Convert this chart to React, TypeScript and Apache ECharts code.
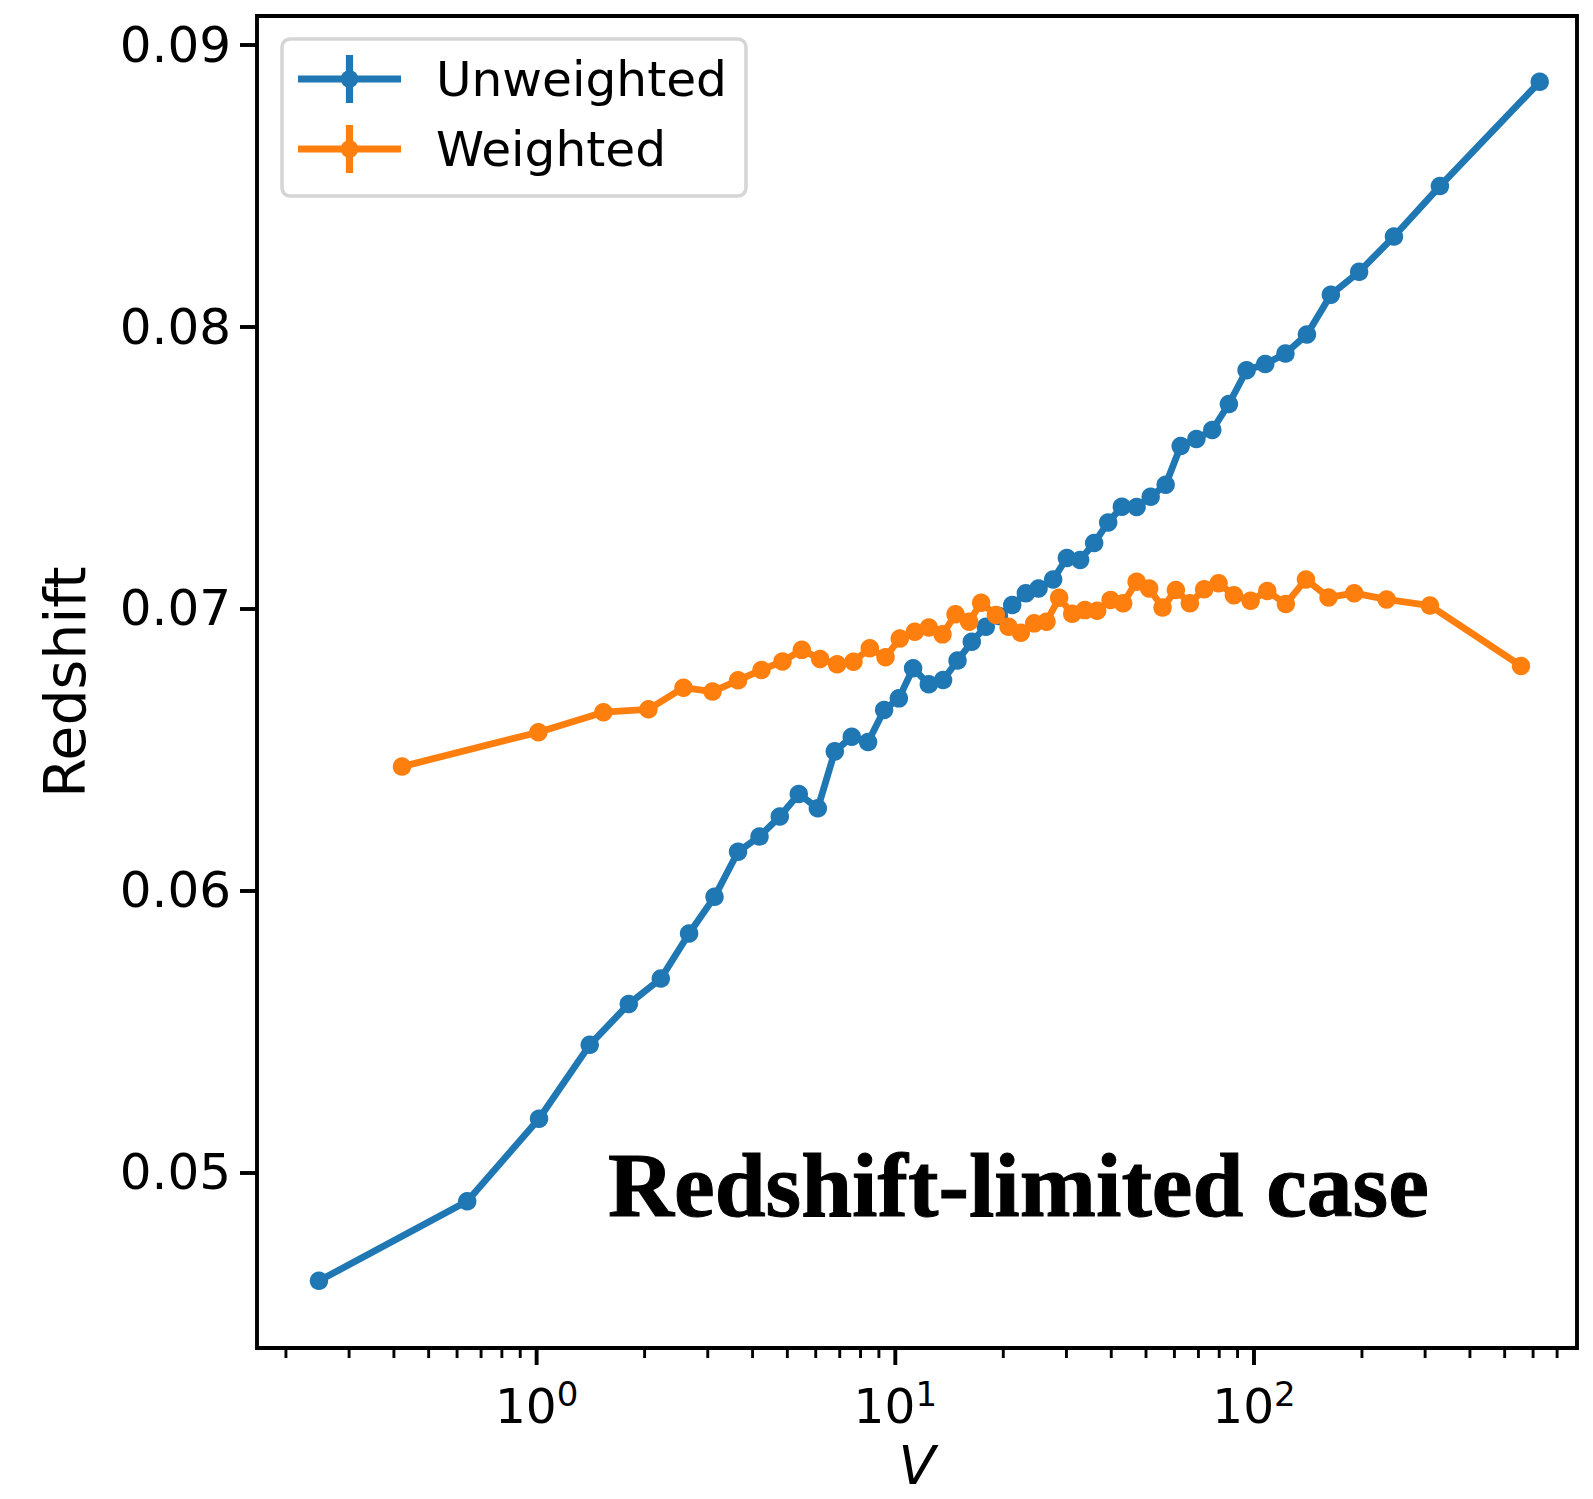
import React, { useEffect, useRef } from 'react';
import * as echarts from 'echarts';

// ---- data ----
const unweightedV = [0.2472, 0.6404, 1.0155, 1.406, 1.807, 2.219, 2.661, 3.133, 3.644, 4.182, 4.764, 5.381, 6.081, 6.781, 7.562, 8.397, 9.307, 10.23, 11.21, 12.40, 13.59, 14.91, 16.34, 17.88, 19.44, 21.18, 23.12, 25.08, 27.55, 30.08, 32.76, 35.84, 39.22, 42.82, 47.07, 51.52, 56.73, 62.46, 69.09, 76.51, 85.12, 95.36, 107.5, 122.4, 140.5, 163.8, 196.4, 245.6, 329.9, 626.1];
const unweightedZ = [0.04615, 0.04897, 0.05190, 0.05452, 0.05597, 0.05687, 0.05847, 0.05977, 0.06137, 0.06191, 0.06262, 0.06342, 0.06291, 0.06493, 0.06545, 0.06526, 0.06640, 0.06681, 0.06788, 0.06731, 0.06746, 0.06815, 0.06882, 0.06935, 0.06973, 0.07012, 0.07054, 0.07071, 0.07103, 0.07179, 0.07172, 0.07232, 0.07305, 0.07361, 0.07360, 0.07396, 0.07439, 0.07576, 0.07601, 0.07633, 0.07725, 0.07845, 0.07867, 0.07904, 0.07972, 0.08113, 0.08194, 0.08319, 0.08498, 0.08868];

const weightedV = [0.4213, 1.0116, 1.5355, 2.050, 2.567, 3.093, 3.644, 4.236, 4.847, 5.486, 6.172, 6.882, 7.645, 8.489, 9.391, 10.29, 11.33, 12.40, 13.54, 14.72, 16.06, 17.35, 19.07, 20.69, 22.39, 24.38, 26.40, 28.63, 31.12, 33.76, 36.54, 39.82, 43.18, 47.07, 51.03, 55.61, 60.57, 66.27, 72.63, 79.66, 87.91, 97.84, 108.9, 122.7, 139.6, 161.4, 190.3, 234.3, 309.5, 555.1];
const weightedZ = [0.06439, 0.06561, 0.06632, 0.06642, 0.06719, 0.06705, 0.06745, 0.06782, 0.06812, 0.06853, 0.06821, 0.06802, 0.06811, 0.06859, 0.06827, 0.06893, 0.06917, 0.06932, 0.06908, 0.06979, 0.06953, 0.07020, 0.06977, 0.06935, 0.06914, 0.06947, 0.06953, 0.07038, 0.06981, 0.06994, 0.06992, 0.07030, 0.07018, 0.07095, 0.07071, 0.07003, 0.07065, 0.07018, 0.07068, 0.07089, 0.07047, 0.07027, 0.07062, 0.07016, 0.07103, 0.07039, 0.07054, 0.07032, 0.07010, 0.06796];

const seriesNames = ['Unweighted', 'Weighted'];
const yTicks = [0.05, 0.06, 0.07, 0.08, 0.09];
const xMajorTicks = [1, 10, 100];
const xMinorTicks = [0.2, 0.3, 0.4, 0.5, 0.6, 0.7, 0.8, 0.9, 2, 3, 4, 5, 6, 7, 8, 9, 20, 30, 40, 50, 60, 70, 80, 90, 200, 300, 400, 500, 600, 700];
const xRange = [0.1661, 795.4];
const yRange = [0.043767, 0.091014];
const annotationText = 'Redshift-limited case';

const BLUE = '#1f77b4';
const ORANGE = '#ff7f0e';
const FONT = 'DejaVu Sans';

const legendIcon =
  'path://M0,20.4H103V27.6H0Z M47.9,0H55.1V48H47.9Z M42.5,24A9,9,0,1,1,60.5,24A9,9,0,1,1,42.5,24Z';

function tickSeries(values: number[], len: number, width: number) {
  return {
    type: 'custom',
    coordinateSystem: 'cartesian2d',
    silent: true,
    clip: false,
    z: 10,
    data: values.map((v) => [v, yRange[0]]),
    renderItem: (_params: any, api: any) => {
      const p = api.coord([api.value(0), api.value(1)]);
      return {
        type: 'line',
        shape: { x1: p[0], y1: p[1], x2: p[0], y2: p[1] + len },
        style: { stroke: '#000', lineWidth: width },
      };
    },
  };
}

export default function App() {
  const ref = useRef<HTMLDivElement>(null);

  useEffect(() => {
    document.body.style.margin = '0';
    const chart = echarts.init(ref.current!, null, { renderer: 'svg' });
    const option: any = {
      animation: false,
      backgroundColor: '#fff',
      grid: {
        left: 257,
        top: 16,
        width: 1320,
        height: 1332,
        show: true,
        borderColor: '#000',
        borderWidth: 3.9,
        backgroundColor: 'transparent',
        containLabel: false,
        outerBoundsMode: 'none',
      },
      legend: {
        data: seriesNames.map((n) => ({ name: n, icon: legendIcon })),
        orient: 'vertical',
        left: 282,
        top: 39,
        padding: [11, 19, 18, 16],
        itemGap: 12,
        itemWidth: 103,
        itemHeight: 48,
        backgroundColor: '#fff',
        borderColor: '#d5d5d5',
        borderWidth: 3.5,
        borderRadius: 8,
        itemStyle: { borderWidth: 0 },
        textStyle: {
          fontFamily: FONT,
          fontSize: 48.6,
          color: '#000',
          lineHeight: 58,
          padding: [0, 0, 0, 30],
        },
        selectedMode: false,
      },
      xAxis: {
        type: 'log',
        logBase: 10,
        min: xRange[0],
        max: xRange[1],
        name: 'V',
        nameLocation: 'middle',
        nameGap: 92,
        nameTextStyle: { fontFamily: FONT, fontSize: 54, lineHeight: 50, fontStyle: 'italic', color: '#000' },
        axisLine: { show: false },
        axisTick: { show: false },
        splitLine: { show: false },
        minorTick: { show: false },
        axisLabel: {
          interval: 0,
          margin: 29,
          showMinLabel: false,
          showMaxLabel: false,
          formatter: (v: number) => {
            const l = Math.log10(v);
            const e = Math.round(l);
            if (Math.abs(l - e) > 1e-6 || !xMajorTicks.includes(Math.pow(10, e))) return '';
            return `{b|10}{s|${e}}`;
          },
          rich: {
            b: { fontFamily: FONT, fontSize: 48.6, color: '#000', lineHeight: 58 },
            s: { fontFamily: FONT, fontSize: 34, color: '#000', lineHeight: 28, verticalAlign: 'top' },
          },
        },
      },
      yAxis: {
        type: 'value',
        min: yRange[0],
        max: yRange[1],
        name: 'Redshift',
        nameLocation: 'middle',
        nameGap: 164,
        nameTextStyle: { fontFamily: FONT, fontSize: 57, color: '#000' },
        axisLine: { show: false },
        splitLine: { show: false },
        axisTick: {
          show: true,
          customValues: yTicks,
          length: 17,
          lineStyle: { color: '#000', width: 3.9 },
        },
        axisLabel: {
          customValues: yTicks,
          margin: 26,
          fontFamily: FONT,
          fontSize: 50,
          color: '#000',
          formatter: (v: number) => v.toFixed(2),
        },
      },
      series: [
        {
          name: seriesNames[0],
          type: 'line',
          data: unweightedV.map((v, i) => [v, unweightedZ[i]]),
          color: BLUE,
          symbol: 'circle',
          symbolSize: 18.5,
          showAllSymbol: true,
          lineStyle: { width: 6.8, color: BLUE },
          itemStyle: { color: BLUE, borderWidth: 0 },
          z: 2,
        },
        {
          name: seriesNames[1],
          type: 'line',
          data: weightedV.map((v, i) => [v, weightedZ[i]]),
          color: ORANGE,
          symbol: 'circle',
          symbolSize: 18.5,
          showAllSymbol: true,
          lineStyle: { width: 6.8, color: ORANGE },
          itemStyle: { color: ORANGE, borderWidth: 0 },
          z: 3,
        },
        tickSeries(xMajorTicks, 17, 3.9),
        tickSeries(xMinorTicks, 10, 2.9),
      ],
      graphic: [
        {
          type: 'text',
          x: 608,
          y: 1185,
          z: 20,
          style: {
            text: annotationText,
            fontFamily: 'Liberation Serif',
            fontWeight: 'bold',
            fontSize: 91.5,
            fill: '#000',
            stroke: '#000',
            lineWidth: 1,
            textAlign: 'left',
            textVerticalAlign: 'middle',
            verticalAlign: 'middle',
          },
        },
      ],
    };
    chart.setOption(option);
    return () => chart.dispose();
  }, []);

  return (
    <div
      ref={ref}
      style={{ position: 'absolute', left: 0, top: 0, width: 1593, height: 1499, background: '#fff' }}
    />
  );
}
